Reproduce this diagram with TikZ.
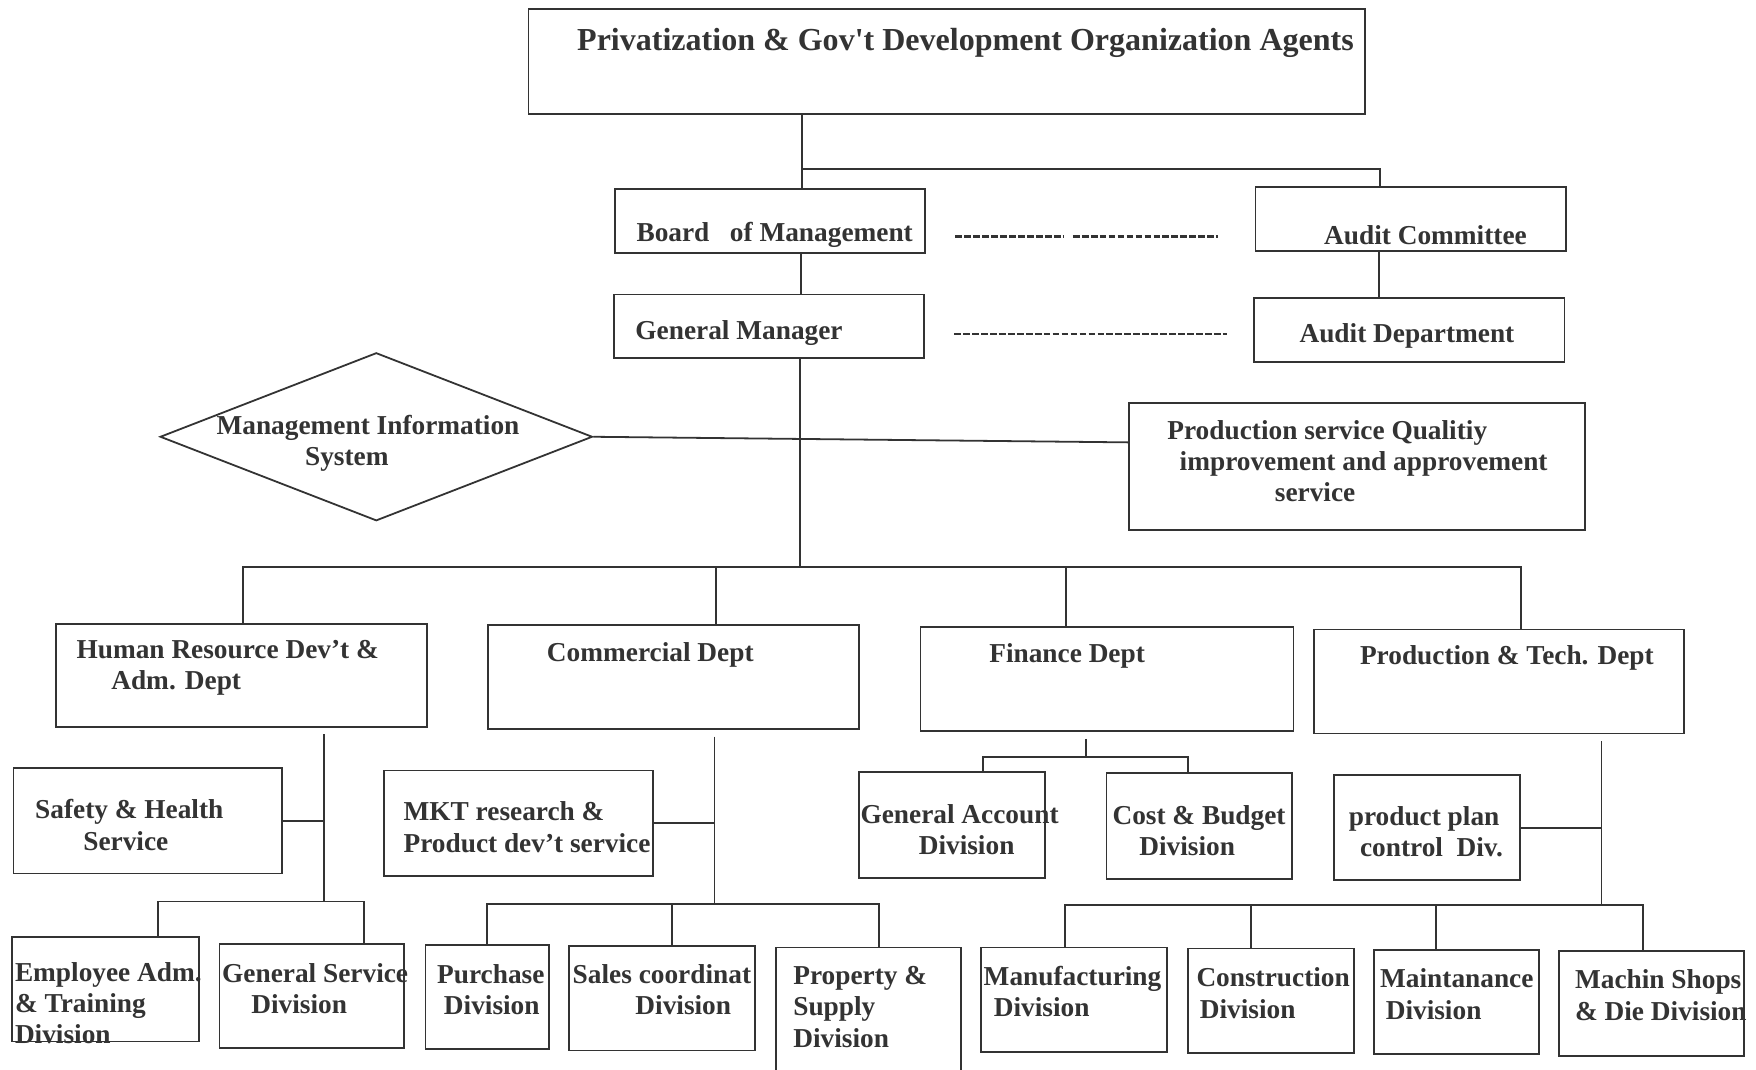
\documentclass[tikz,border=0pt]{standalone}
\usepackage{fontspec}
\setmainfont{Liberation Serif}[Ligatures=TeXOff]
\usetikzlibrary{fit,shapes.geometric}
\definecolor{ink}{HTML}{333333}
\begin{document}
\begin{tikzpicture}[x=0.5pt,y=-0.5pt,
  box/.style={draw=ink, line width=0.8pt, inner sep=0pt, fit={#1}},
  conn/.style={draw=ink, line width=0.8pt},
  dashline/.style={draw=ink, line width=1.1pt, dash pattern=on 3pt off 1pt},
  txt/.style={anchor=north west, inner sep=0pt, align=left, text=ink,
    font=\fontsize{12.2}{14}\selectfont\bfseries},
  txtone/.style={anchor=base west, inner sep=0pt, text=ink,
    font=\fontsize{12.2}{14}\selectfont\bfseries}]

\fill[white] (0,0) rectangle (1568,955);
\useasboundingbox (0,0) rectangle (1568,955);

% ---- boxes ----
\node[box={(472,8)(1219,102)}] (top) {};
\node[box={(549,169)(826,226)}] (board) {};
\node[box={(1121,167)(1398,224)}] (ac) {};
\node[box={(548,263)(825,320)}] (gm) {};
\node[box={(1120,266)(1397,323)}] (ad) {};
\node[draw=ink, line width=0.8pt, diamond, inner sep=0pt,
      minimum width=193pt, minimum height=75pt] (mis) at (336,390) {};
\node[box={(1008,360)(1415,473)}] (psq) {};

\node[box={(50,557)(381,649)}] (hr) {};
\node[box={(436,558)(767,651)}] (com) {};
\node[box={(822,560)(1155,653)}] (fin) {};
\node[box={(1173,562)(1504,655)}] (prod) {};

\node[box={(12,686)(252,780)}] (safety) {};
\node[box={(343,688)(583,782)}] (mkt) {};
\node[box={(767,689)(933,784)}] (ga) {};
\node[box={(988,690)(1154,785)}] (cb) {};
\node[box={(1191,692)(1357,786)}] (ppc) {};

\node[box={(11,837)(178,930)}] (emp) {};
\node[box={(196,843)(361,936)}] (gs) {};
\node[box={(380,844)(490,937)}] (pur) {};
\node[box={(508,845)(674,938)}] (sales) {};
\node[box={(693,846)(858,965)}] (prop) {};
\node[box={(876,846)(1042,939)}] (man) {};
\node[box={(1061,847)(1209,940)}] (con) {};
\node[box={(1227,848)(1374,941)}] (mai) {};
\node[box={(1392,849)(1557,943)}] (mac) {};

% ---- labels ----
\node[txtone, font=\fontsize{14.3}{16}\selectfont\bfseries] (t-top) at (515,45)
  {Privatization \& Gov't Development Organization Agents};
\node[txtone] (t-board) at (568,215.5) {Board\ \ \ of Management};
\node[txtone] (t-ac) at (1182,218.5) {Audit Committee};
\node[txtone] (t-gm) at (567,303.5) {General Manager};
\node[txtone] (t-ad) at (1160,305.5) {Audit Department};
\node[txt] (t-mis) at (193,368) {\strut Management Information\\\hspace*{39.5pt}System};
\node[txt] (t-psq) at (1042,372) {\strut Production service Qualitiy\\\hspace*{5.5pt}improvement and approvement\\\hspace*{48pt}service};
\node[txt] (t-hr) at (68,568) {\strut Human Resource Dev’t \&\\\hspace*{15.5pt}Adm. Dept};
\node[txtone] (t-com) at (488,590.5) {Commercial Dept};
\node[txtone] (t-fin) at (883,591.5) {Finance Dept};
\node[txtone] (t-prod) at (1214,593.5) {Production \& Tech. Dept};
\node[txt] (t-safety) at (31,711) {\strut Safety \& Health\\\hspace*{21.5pt}Service};
\node[txt] (t-mkt) at (360,713) {\strut MKT research \&\\Product dev’t service};
\node[txt] (t-ga) at (768,715) {\strut General Account\\\hspace*{26pt}Division};
\node[txt] (t-cb) at (993,716) {\strut Cost \& Budget\\\hspace*{12pt}Division};
\node[txt] (t-ppc) at (1204,717) {\strut product plan\\\hspace*{5pt}control\ \ Div.};
\node[txt] (t-emp) at (13,856) {\strut Employee Adm.\\\& Training\\Division};
\node[txt] (t-gs) at (198,857) {\strut General Service\\\hspace*{13pt}Division};
\node[txt] (t-pur) at (390,858) {\strut Purchase\\\hspace*{3pt}Division};
\node[txt] (t-sales) at (511,858) {\strut Sales coordinat\\\hspace*{28pt}Division};
\node[txt] (t-prop) at (708,859) {\strut Property \&\\Supply\\Division};
\node[txt] (t-man) at (878,860) {\strut Manufacturing\\\hspace*{4.5pt}Division};
\node[txt] (t-con) at (1068,861) {\strut Construction\\\hspace*{1.5pt}Division};
\node[txt] (t-mai) at (1232,862) {\strut Maintanance\\\hspace*{2.5pt}Division};
\node[txt] (t-mac) at (1406,863) {\strut Machin Shops\\\& Die Division};

% ---- junction points ----
\coordinate (j-top) at (716,151);
\coordinate (j-gm) at (714,506);
\coordinate (j-hr) at (217,506);
\coordinate (j-com) at (639,506);
\coordinate (j-fin) at (952,506);
\coordinate (j-prod) at (1358,506);
\coordinate (j-hr2) at (289,805);
\coordinate (j-emp) at (141,805);
\coordinate (j-gs) at (325,805);
\coordinate (j-com2) at (638,807);
\coordinate (j-pur) at (435,807);
\coordinate (j-sales) at (600,807);
\coordinate (j-prop) at (785,807);
\coordinate (j-fin2) at (970,676);
\coordinate (j-ga) at (878,676);
\coordinate (j-cb) at (1061,676);
\coordinate (j-prod2) at (1430,808);
\coordinate (j-man) at (951,808);
\coordinate (j-con) at (1117,808);
\coordinate (j-mai) at (1282,808);
\coordinate (j-mac) at (1467,808);
\coordinate (j-psq) at (1008,395);
\coordinate (d1a) at (853,211);
\coordinate (d1b) at (950,211);
\coordinate (d1c) at (958,211);
\coordinate (d1d) at (1088,211);
\coordinate (d2a) at (852,298);
\coordinate (d2b) at (1096,298);

% ---- upper connectors ----
\draw[conn] (top.south -| j-top) -- (j-top |- board.north);
\draw[conn] (j-top) -| (ac.north -| 1232,0);
\draw[conn] (board.south -| 715,0) -- (gm.north -| 715,0);
\draw[conn] (ac.south -| 1231,0) -- (ad.north -| 1231,0);
\draw[dashline] (d1a) -- (d1b);
\draw[dashline] (d1c) -- (d1d);
\draw[dashline] (d2a) -- (d2b);
\draw[conn] (gm.south -| j-gm) -- (j-gm);
\draw[conn] (mis.east) -- (j-psq);

% ---- department bus ----
\draw[conn] (hr.north -| j-hr) -- (j-hr) -- (j-prod) -- (j-prod |- prod.north);
\draw[conn] (com.north -| j-com) -- (j-com);
\draw[conn] (fin.north -| j-fin) -- (j-fin);

% ---- human resource ----
\draw[conn, shorten <=3pt] (hr.south -| j-hr2) -- (j-hr2);
\draw[conn] (safety.east) -- (safety.east -| j-hr2);
\draw[conn] (emp.north -| j-emp) -- (j-emp) -- (j-gs) -- (j-gs |- gs.north);

% ---- commercial ----
\draw[conn, shorten <=3pt] (com.south -| j-com2) -- (j-com2);
\draw[conn] (mkt.east) -- (mkt.east -| j-com2);
\draw[conn] (pur.north -| j-pur) -- (j-pur) -- (j-prop) -- (j-prop |- prop.north);
\draw[conn] (sales.north -| j-sales) -- (j-sales);

% ---- finance ----
\draw[conn, shorten <=3pt] (fin.south -| j-fin2) -- (j-fin2);
\draw[conn] (ga.north -| j-ga) -- (j-ga) -- (j-cb) -- (j-cb |- cb.north);

% ---- production ----
\draw[conn, shorten <=3pt] (prod.south -| j-prod2) -- (j-prod2);
\draw[conn] (ppc.east) -- (ppc.east -| j-prod2);
\draw[conn] (man.north -| j-man) -- (j-man) -- (j-mac) -- (j-mac |- mac.north);
\draw[conn] (con.north -| j-con) -- (j-con);
\draw[conn] (mai.north -| j-mai) -- (j-mai);
\end{tikzpicture}
\end{document}
